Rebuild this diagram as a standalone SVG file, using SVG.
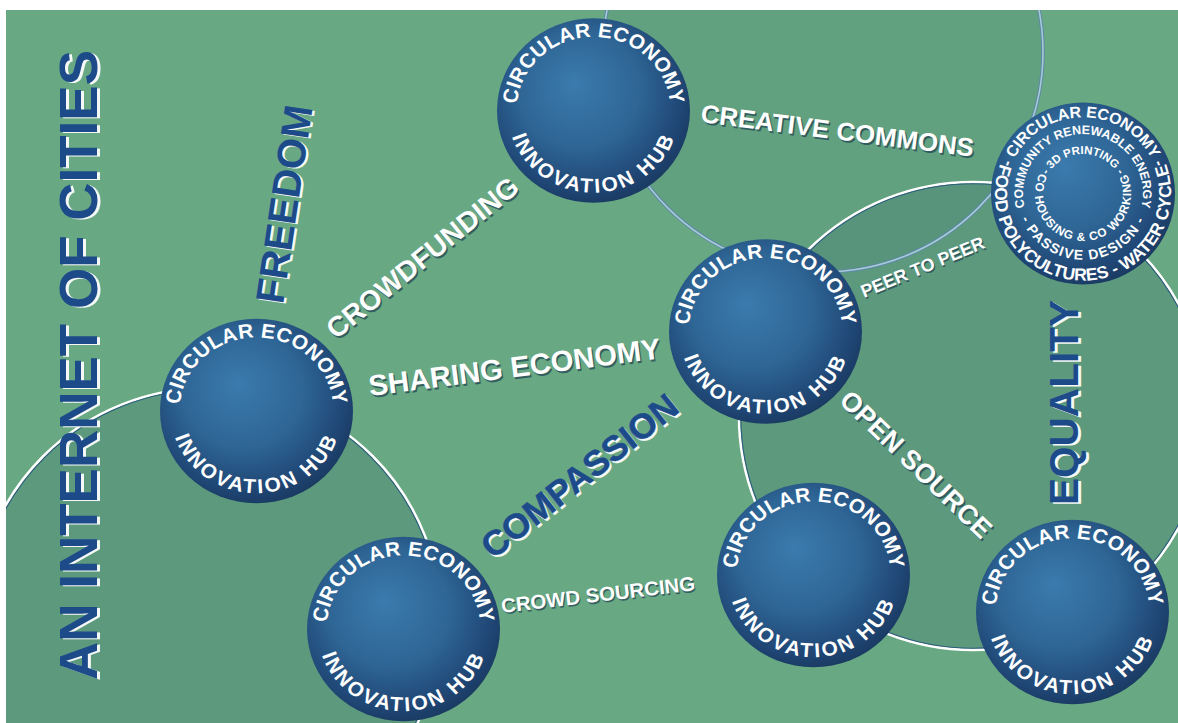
<svg xmlns="http://www.w3.org/2000/svg" width="1178" height="723" viewBox="0 0 1178 723">
<style>
.t{font-family:"Liberation Sans",Arial,sans-serif;font-weight:bold}
.nt{font-family:"Liberation Sans",Arial,sans-serif;font-weight:bold;fill:#fff}
.w{fill:#fff;stroke:#fff;stroke-width:0}
.ws{fill:#1f4152;opacity:.7;stroke:#1f4152;stroke-width:0}
.b{fill:#1d4b8a;stroke:#1d4b8a;stroke-width:0}
.bs{fill:#f4f8f6;stroke:#f4f8f6;stroke-width:0}
.ring{fill:#5d997d}
.rw{fill:none;stroke:#fff;stroke-width:2.6}
.rd{fill:none;stroke:#2d5e7e;stroke-width:1.1}
.sph{fill:url(#sph)}
</style>
<defs>
<clipPath id="clip"><rect x="6" y="10" width="1172" height="713"/></clipPath>
<radialGradient id="sph" cx="0.45" cy="0.42" r="0.62" fx="0.4" fy="0.35">
<stop offset="0" stop-color="#3b7bad"/>
<stop offset="0.5" stop-color="#2e6696"/>
<stop offset="0.85" stop-color="#1f4573"/>
<stop offset="1" stop-color="#18375d"/>
</radialGradient>
<path id="ta" d="M -72.36 26.34 A 77 77 0 1 1 72.36 26.34"/>
<path id="ba" d="M -80.81 -29.41 A 86 86 0 1 0 80.81 -29.41"/>
<path id="p7ot" d="M -54.45 54.45 A 77 77 0 1 1 54.45 54.45"/>
<path id="p7ob" d="M -62.23 -62.23 A 88 88 0 1 0 62.23 -62.23"/>
<path id="p72t" d="M -42.43 42.43 A 60 60 0 1 1 42.43 42.43"/>
<path id="p72b" d="M -47.38 -47.38 A 67 67 0 1 0 47.38 -47.38"/>
<path id="p73t" d="M -28.28 28.28 A 40 40 0 1 1 28.28 28.28"/>
<path id="p73b" d="M -24 -41.57 A 48 48 0 1 0 24 -41.57"/>
<text id="L-cc" class="t" font-size="25.5" transform="translate(700,122) rotate(7.25)" textLength="275" lengthAdjust="spacingAndGlyphs">CREATIVE COMMONS</text>
<text id="L-cf" class="t" font-size="28" transform="translate(336,340) rotate(-39)" textLength="238" lengthAdjust="spacingAndGlyphs">CROWDFUNDING</text>
<text id="L-se" class="t" font-size="29" transform="translate(370,396) rotate(-7.4)" textLength="294" lengthAdjust="spacingAndGlyphs">SHARING ECONOMY</text>
<text id="L-cs" class="t" font-size="20" transform="translate(502,613) rotate(-6.7)" textLength="195" lengthAdjust="spacingAndGlyphs">CROWD SOURCING</text>
<text id="L-pp" class="t" font-size="18" transform="translate(864,298) rotate(-22.5)" textLength="132" lengthAdjust="spacingAndGlyphs">PEER TO PEER</text>
<text id="L-os" class="t" font-size="27" transform="translate(838,402) rotate(44)" textLength="199" lengthAdjust="spacingAndGlyphs">OPEN SOURCE</text>
<text id="L-cp" class="t" font-size="35" font-weight="normal" stroke-width="0.5" transform="translate(493,560) rotate(-38.4)" textLength="240" lengthAdjust="spacingAndGlyphs">COMPASSION</text>
<text id="L-fr" class="t" font-size="40" transform="translate(283,305) rotate(-81.5)" textLength="200" lengthAdjust="spacingAndGlyphs">FREEDOM</text>
<text id="L-ic" class="t" font-size="53" transform="translate(97,680) rotate(-90)" textLength="630" lengthAdjust="spacingAndGlyphs">AN INTERNET OF CITIES</text>
<text id="L-eq" class="t" font-size="40" transform="translate(1078,505) rotate(-90)" textLength="205" lengthAdjust="spacingAndGlyphs">EQUALITY</text>
</defs>
<rect x="0" y="0" width="1178" height="723" fill="#ffffff"/>
<rect x="6" y="10" width="1172" height="713" fill="#68a882"/>
<g id="connectors" clip-path="url(#clip)">
<circle cx="208" cy="621" r="233" class="ring"/>
<circle cx="973" cy="416" r="234" class="ring"/>
<circle cx="823" cy="52" r="220" fill="#1f4d5e" fill-opacity="0.07"/>
<circle cx="208" cy="621" r="233" class="rw"/>
<circle cx="208" cy="621" r="231.2" class="rd"/>
<circle cx="973" cy="416" r="234" class="rw"/>
<circle cx="973" cy="416" r="232.2" class="rd"/>
<circle cx="823" cy="52" r="220" fill="none" stroke="#5a8aa6" stroke-width="3.6"/>
<circle cx="823" cy="52" r="220" fill="none" stroke="#a8c9d6" stroke-width="1.6"/>
</g>
<g id="labels">
<use href="#L-cc" class="ws" x="1.5" y="2"/><use href="#L-cc" class="w"/>
<use href="#L-cf" class="ws" x="1.5" y="2"/><use href="#L-cf" class="w"/>
<use href="#L-se" class="ws" x="1.5" y="2"/><use href="#L-se" class="w"/>
<use href="#L-cs" class="ws" x="1.2" y="1.6"/><use href="#L-cs" class="w"/>
<use href="#L-pp" class="ws" x="1.2" y="1.6"/><use href="#L-pp" class="w"/>
<use href="#L-os" class="ws" x="1.5" y="2"/><use href="#L-os" class="w"/>
<use href="#L-cp" class="bs" x="2" y="2"/><use href="#L-cp" class="b"/>
<use href="#L-fr" class="bs" x="2.5" y="1.2"/><use href="#L-fr" class="b"/>
<use href="#L-ic" class="bs" x="3" y="1"/><use href="#L-ic" class="b"/>
<use href="#L-eq" class="bs" x="2.5" y="1.5"/><use href="#L-eq" class="b"/>
</g>
<g id="node1" transform="translate(256.5,411) scale(1,0.955)">
<circle r="96.5" class="sph"/>
<text class="nt" font-size="21" letter-spacing="0.3" text-anchor="middle"><textPath href="#ta" startOffset="50%">CIRCULAR ECONOMY</textPath></text>
<text class="nt" font-size="21" letter-spacing="2.5" text-anchor="middle"><textPath href="#ba" startOffset="50%">INNOVATION HUB</textPath></text>
</g>
<g id="node2" transform="translate(593.5,110.5) scale(1,0.955)">
<circle r="96.5" class="sph"/>
<text class="nt" font-size="21" letter-spacing="0.3" text-anchor="middle"><textPath href="#ta" startOffset="50%">CIRCULAR ECONOMY</textPath></text>
<text class="nt" font-size="21" letter-spacing="2.5" text-anchor="middle"><textPath href="#ba" startOffset="50%">INNOVATION HUB</textPath></text>
</g>
<g id="node3" transform="translate(765.5,331.5) scale(1,0.955)">
<circle r="96.5" class="sph"/>
<text class="nt" font-size="21" letter-spacing="0.3" text-anchor="middle"><textPath href="#ta" startOffset="50%">CIRCULAR ECONOMY</textPath></text>
<text class="nt" font-size="21" letter-spacing="2.5" text-anchor="middle"><textPath href="#ba" startOffset="50%">INNOVATION HUB</textPath></text>
</g>
<g id="node4" transform="translate(403.5,629) scale(1,0.955)">
<circle r="96.5" class="sph"/>
<text class="nt" font-size="21" letter-spacing="0.3" text-anchor="middle"><textPath href="#ta" startOffset="50%">CIRCULAR ECONOMY</textPath></text>
<text class="nt" font-size="21" letter-spacing="2.5" text-anchor="middle"><textPath href="#ba" startOffset="50%">INNOVATION HUB</textPath></text>
</g>
<g id="node5" transform="translate(813.5,575) scale(1,0.955)">
<circle r="96.5" class="sph"/>
<text class="nt" font-size="21" letter-spacing="0.3" text-anchor="middle"><textPath href="#ta" startOffset="50%">CIRCULAR ECONOMY</textPath></text>
<text class="nt" font-size="21" letter-spacing="2.5" text-anchor="middle"><textPath href="#ba" startOffset="50%">INNOVATION HUB</textPath></text>
</g>
<g id="node6" transform="translate(1072.5,612) scale(1,0.955)">
<circle r="96.5" class="sph"/>
<text class="nt" font-size="21" letter-spacing="0.3" text-anchor="middle"><textPath href="#ta" startOffset="50%">CIRCULAR ECONOMY</textPath></text>
<text class="nt" font-size="21" letter-spacing="2.5" text-anchor="middle"><textPath href="#ba" startOffset="50%">INNOVATION HUB</textPath></text>
</g>
<g id="node7" transform="translate(1083,193.5) scale(1,0.99)">
<circle r="92" class="sph"/>
<text class="nt" font-size="16" letter-spacing="-0.1" text-anchor="middle"><textPath href="#p7ot" startOffset="50%">- CIRCULAR ECONOMY -</textPath></text>
<text class="nt" font-size="17.5" text-anchor="middle"><textPath href="#p7ob" startOffset="50%">FOOD POLYCULTURES - WATER CYCLE</textPath></text>
<text class="nt" font-size="12.5" text-anchor="middle"><textPath href="#p72t" startOffset="50%">COMMUNITY RENEWABLE ENERGY</textPath></text>
<text class="nt" font-size="14" letter-spacing="1.3" text-anchor="middle"><textPath href="#p72b" startOffset="50%">- PASSIVE DESIGN -</textPath></text>
<text class="nt" font-size="11.5" text-anchor="middle"><textPath href="#p73t" startOffset="50%">- 3D PRINTING -</textPath></text>
<text class="nt" font-size="12" letter-spacing="0.85" text-anchor="middle"><textPath href="#p73b" startOffset="50%">CO HOUSING &amp; CO WORKING</textPath></text>
</g>
</svg>
